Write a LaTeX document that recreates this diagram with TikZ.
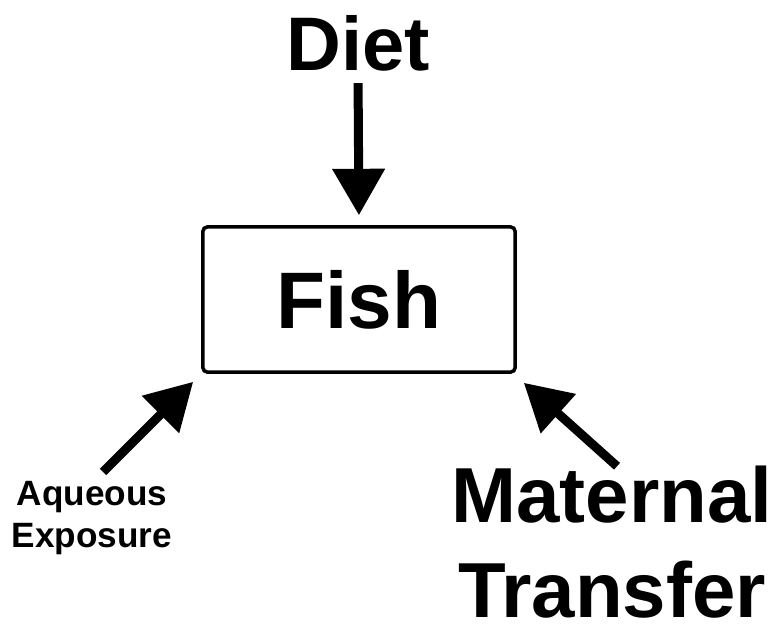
\documentclass[tikz,border=0pt]{standalone}
\usepackage{fontspec}
\setmainfont{Liberation Sans}
\usetikzlibrary{arrows.meta,calc}

\begin{document}
\begin{tikzpicture}[x=0.025cm, y=-0.025cm,
		txt/.style={inner sep=0pt, align=center, font=\bfseries},
		fishbox/.style={draw, line width=2.5pt, rounded corners=3pt,
			minimum width=7.8cm, minimum height=3.625cm, inner sep=0pt},
		arr/.style={line width=6.4pt, -{Triangle[length=33pt,width=36pt]}}]
		\useasboundingbox (0,0) rectangle (780,632);

		% Define nodes
		\node[txt, font=\bfseries\fontsize{54}{60}\selectfont] (D) at (358,43) {Diet};
		\node[fishbox, font=\bfseries\fontsize{57}{64}\selectfont] (F) at (359,299.5) {Fish};
		\node[txt, font=\bfseries\fontsize{25}{30}\selectfont] (AQ) at (92,518) {Aqueous\\Exposure};
		\node[txt, font=\bfseries\fontsize{55.5}{68}\selectfont] (MT) at (612,542) {Maternal\\Transfer};

		% Connect the nodes
		\draw[arr, shorten <=12*0.7113pt, shorten >=10*0.7113pt] (D.south) -- (F.north);
		\draw[arr] ($(AQ.north)+(11,-9)$) -- ($(F.south west)+(-8,8)$);
		\draw[arr] ($(MT.north)+(5,1)$) -- ($(F.south east)+(7,9)$);
	\end{tikzpicture}
\end{document}
